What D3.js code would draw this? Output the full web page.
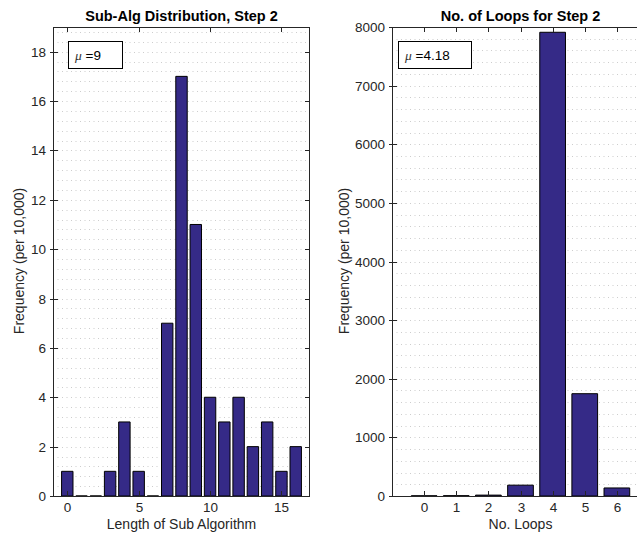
<!DOCTYPE html>
<html>
<head>
<meta charset="utf-8">
<script src="https://cdn.jsdelivr.net/npm/d3@7"></script>
<style>
  body { margin: 0; background: #fff; }
  text { font-family: "Liberation Sans", Arial, Helvetica, sans-serif; fill: #262626; }
</style>
</head>
<body>
<svg id="chart" width="637" height="535"></svg>
<script>
// left panel: sub algorithm length
const lenCats = [0,1,2,3,4,5,6,7,8,9,10,11,12,13,14,15,16];
const lenFreq = [1,0,0,1,3,1,0,7,17,11,4,3,4,2,3,1,2];
const lenTicksX = [0,5,10,15];
const lenTicksY = [0,2,4,6,8,10,12,14,16,18];

// right panel: number of loops
const loopCats = [0,1,2,3,4,5,6];
const loopFreq = [3,5,15,185,7910,1745,137];
const loopTicksX = [0,1,2,3,4,5,6];
const loopTicksY = [0,1000,2000,3000,4000,5000,6000,7000,8000];

const barColor = "#352a87";

const svg = d3.select("#chart");

function panel(opt) {
  const g = svg.append("g");
  const x = d3.scaleLinear().domain(opt.xDom).range([opt.left, opt.right]);
  const y = d3.scaleLinear().domain(opt.yDom).range([496, 27]);

  // dotted grid (major + minor)
  const minor = d3.range(opt.yDom[0], opt.yDom[1] + 1e-9, opt.minorStep);
  g.append("g").selectAll("line").data(minor.slice(1)).enter().append("line")
    .attr("x1", opt.left).attr("x2", opt.right)
    .attr("y1", d => Math.round(y(d)) + 0.5).attr("y2", d => Math.round(y(d)) + 0.5)
    .attr("stroke", "#cdcdcd").attr("stroke-width", 1)
    .attr("stroke-dasharray", "1,3.5");

  // bars
  const bw = (x(1) - x(0)) * 0.8;
  g.append("g").selectAll("path").data(opt.cats).enter().append("path")
    .attr("d", (d, i) => {
      const x0 = x(d) - bw / 2, x1 = x(d) + bw / 2;
      const y0 = y(0), y1 = y(opt.vals[i]);
      return `M${x0},${y0}V${y1}H${x1}V${y0}Z`;
    })
    .attr("fill", barColor)
    .attr("stroke", "#000")
    .attr("stroke-width", 1);

  // box
  g.append("rect")
    .attr("x", opt.left + 0.5).attr("y", 27.5)
    .attr("width", opt.right - opt.left - 1).attr("height", 469)
    .attr("fill", "none").attr("stroke", "#262626").attr("stroke-width", 1);

  // y ticks left and right
  const yt = g.append("g");
  opt.yTicks.forEach(t => {
    const yy = Math.round(y(t)) + 0.5;
    yt.append("line").attr("x1", opt.left - 3).attr("x2", opt.left + 5)
      .attr("y1", yy).attr("y2", yy).attr("stroke", "#262626");
    yt.append("line").attr("x1", opt.right - 5).attr("x2", opt.right)
      .attr("y1", yy).attr("y2", yy).attr("stroke", "#262626");
    yt.append("text").attr("x", opt.left - 7).attr("y", yy + 4.5)
      .attr("text-anchor", "end").attr("font-size", 13.5).text(t);
  });

  // x ticks top and bottom
  const xt = g.append("g");
  opt.xTicks.forEach(t => {
    const xx = Math.round(x(t)) + 0.5;
    xt.append("line").attr("x1", xx).attr("x2", xx)
      .attr("y1", 496).attr("y2", 491).attr("stroke", "#262626");
    xt.append("line").attr("x1", xx).attr("x2", xx)
      .attr("y1", 27).attr("y2", 32).attr("stroke", "#262626");
    xt.append("text").attr("x", xx).attr("y", 512)
      .attr("text-anchor", "middle").attr("font-size", 13.5).text(t);
  });

  const cx = (opt.left + opt.right) / 2;
  g.append("text").attr("x", cx).attr("y", 21)
    .attr("text-anchor", "middle").attr("font-size", 14.5)
    .attr("font-weight", "bold").style("fill", "#000").text(opt.title);
  g.append("text").attr("x", cx).attr("y", 529)
    .attr("text-anchor", "middle").attr("font-size", 14).text(opt.xLabel);
  g.append("text")
    .attr("transform", `translate(${opt.yLabelX},261) rotate(-90)`)
    .attr("text-anchor", "middle").attr("font-size", 14).text("Frequency (per 10,000)");

  // mean legend box
  g.append("rect")
    .attr("x", opt.left + opt.legX + 0.5).attr("y", 41.5)
    .attr("width", opt.legW).attr("height", 27)
    .attr("fill", "#fff").attr("stroke", "#000");
  const lt = g.append("text").attr("x", opt.left + opt.legX + 7).attr("y", 59.5)
    .attr("font-size", 13.5).style("fill", "#000");
  lt.append("tspan").attr("font-family", "'Liberation Serif', 'DejaVu Serif', serif")
    .attr("font-style", "italic").style("fill", "#333").text("\u03bc");
  lt.append("tspan").text(" =" + opt.mean);
}

panel({
  left: 53, right: 310, xDom: [-1, 17], yDom: [0, 19], minorStep: 0.4,
  cats: lenCats, vals: lenFreq, xTicks: lenTicksX, yTicks: lenTicksY,
  title: "Sub-Alg Distribution, Step 2", xLabel: "Length of Sub Algorithm",
  yLabelX: 24, legX: 15, legW: 54, mean: "9"
});

panel({
  left: 392, right: 649, xDom: [-1, 7], yDom: [0, 8000], minorStep: 200,
  cats: loopCats, vals: loopFreq, xTicks: loopTicksX, yTicks: loopTicksY,
  title: "No. of Loops for Step 2", xLabel: "No. Loops",
  yLabelX: 349, legX: 6, legW: 73, mean: "4.18"
});
</script>
</body>
</html>
